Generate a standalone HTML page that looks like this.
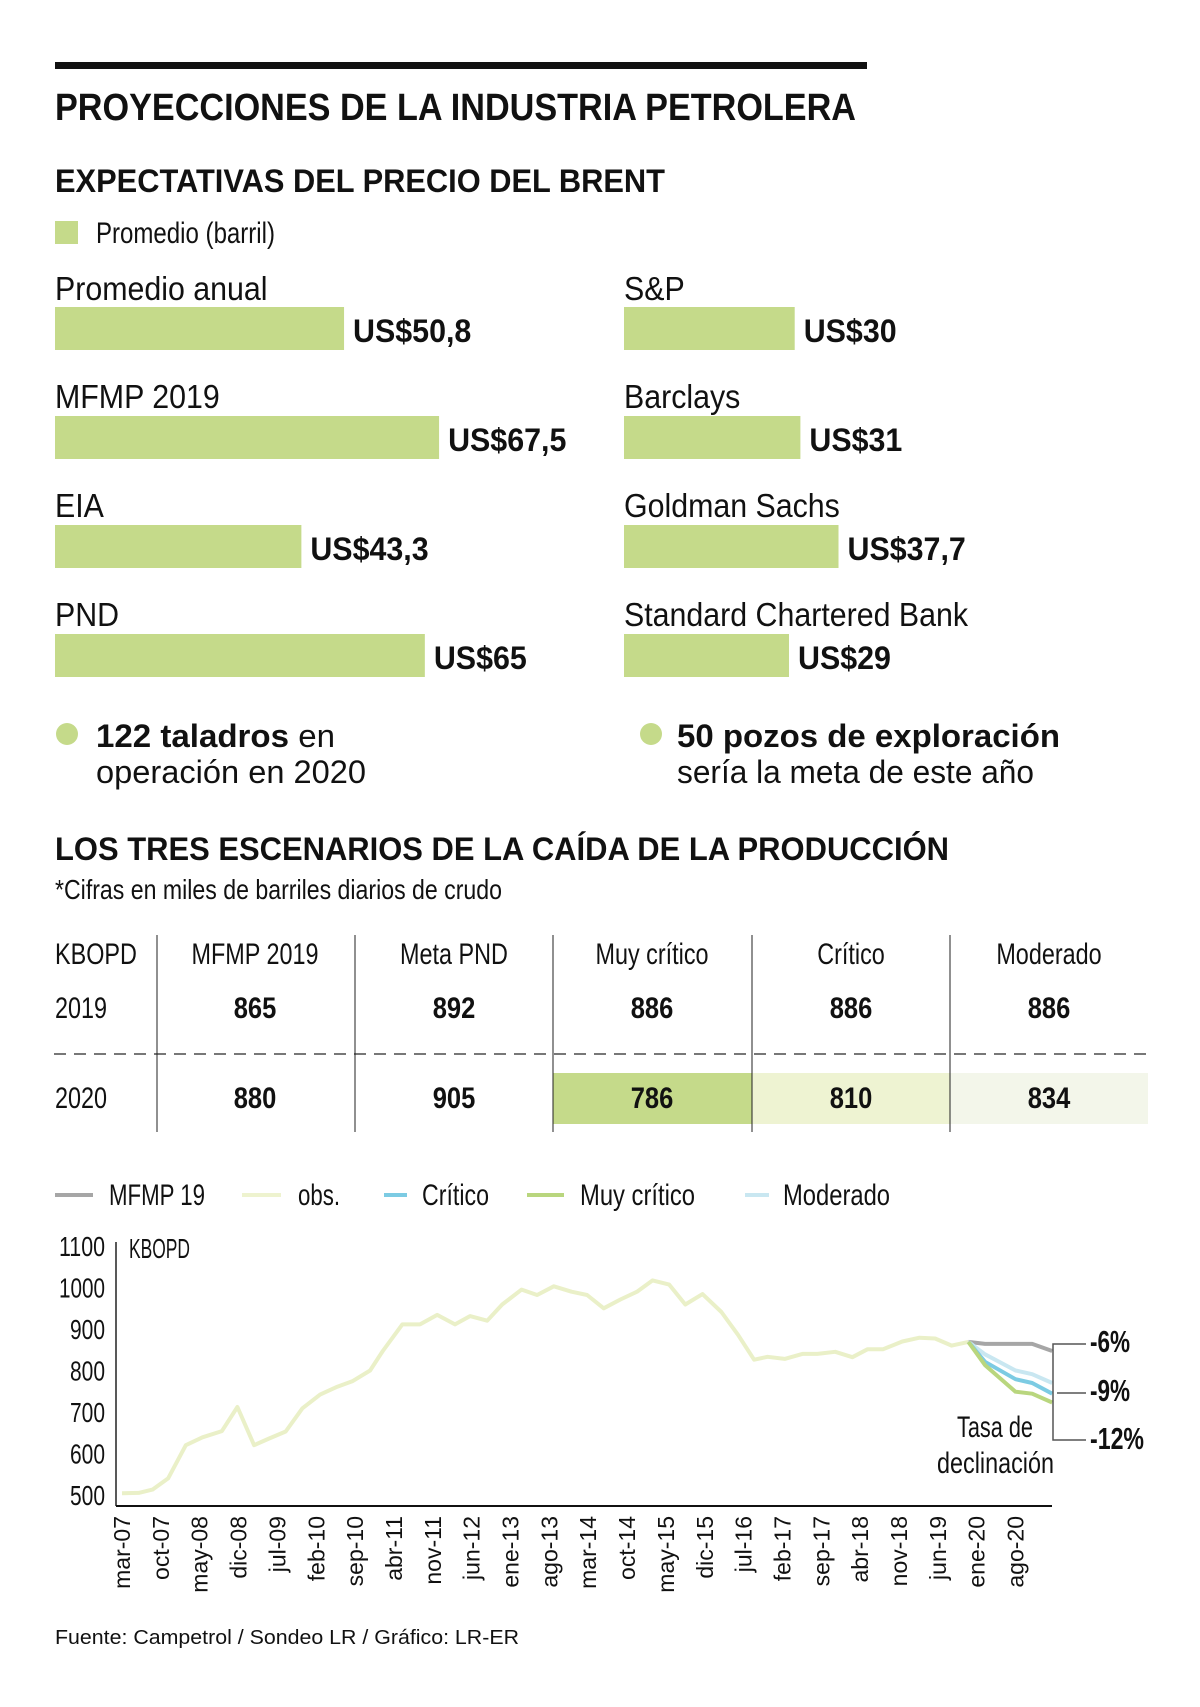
<!DOCTYPE html>
<html><head><meta charset="utf-8"><style>
html,body{margin:0;padding:0;background:#fff}
svg{display:block}
text{font-family:"Liberation Sans",sans-serif;fill:#111}
.b{font-weight:bold}
</style></head><body>
<svg id="root" width="1200" height="1707" viewBox="0 0 1200 1707">
<rect x="55" y="62" width="812" height="7" fill="#111"/>
<text class="b" x="55" y="120" font-size="38" textLength="801" lengthAdjust="spacingAndGlyphs">PROYECCIONES DE LA INDUSTRIA PETROLERA</text>
<text class="b" x="55" y="192" font-size="32" textLength="610" lengthAdjust="spacingAndGlyphs">EXPECTATIVAS DEL PRECIO DEL BRENT</text>
<rect x="55" y="221" width="23" height="23" fill="#c5da8a"/>
<text x="96" y="243" font-size="30" textLength="179" lengthAdjust="spacingAndGlyphs">Promedio (barril)</text>
<g id="bars"></g>

<circle cx="67" cy="734" r="11" fill="#c5da8a"/>
<text x="96" y="747" font-size="32" textLength="239" lengthAdjust="spacingAndGlyphs"><tspan class="b">122 taladros</tspan> en</text>
<text x="96" y="783" font-size="32" textLength="270" lengthAdjust="spacingAndGlyphs">operación en 2020</text>
<circle cx="651" cy="734" r="11" fill="#c5da8a"/>
<text class="b" x="677" y="747" font-size="32" textLength="383" lengthAdjust="spacingAndGlyphs">50 pozos de exploración</text>
<text x="677" y="783" font-size="32" textLength="357" lengthAdjust="spacingAndGlyphs">sería la meta de este año</text>

<text class="b" x="55" y="860" font-size="32" textLength="894" lengthAdjust="spacingAndGlyphs">LOS TRES ESCENARIOS DE LA CAÍDA DE LA PRODUCCIÓN</text>
<text x="55" y="899" font-size="28" textLength="447" lengthAdjust="spacingAndGlyphs">*Cifras en miles de barriles diarios de crudo</text>
<g id="table"></g>
<g id="chart"></g>
<text x="55" y="1644" font-size="20" textLength="464" lengthAdjust="spacingAndGlyphs" fill="#333">Fuente: Campetrol / Sondeo LR / Gráfico: LR-ER</text>
</svg>
<script>
// ---- Brent bar data ----
const leftNames = ["Promedio anual","MFMP 2019","EIA","PND"];
const leftValues = [50.8,67.5,43.3,65];
const leftLabels = ["US$50,8","US$67,5","US$43,3","US$65"];
const rightNames = ["S&P","Barclays","Goldman Sachs","Standard Chartered Bank"];
const rightValues = [30,31,37.7,29];
const rightLabels = ["US$30","US$31","US$37,7","US$29"];
// ---- table data ----
const tableHeaders = ["KBOPD","MFMP 2019","Meta PND","Muy crítico","Crítico","Moderado"];
const row2019 = ["2019","865","892","886","886","886"];
const row2020 = ["2020","880","905","786","810","834"];
// ---- line chart data (month index from mar-07, kbopd) ----
const obsMonths = [0,3,5.5,8.3,11.5,14.5,18,20.8,23.8,26.3,29.5,32.5,35.7,38.8,41.5,44.7,47,50.5,53.7,56.8,60,62.7,65.8,68.5,72,74.8,77.8,81,83.8,86.8,89.8,92.8,95.6,98.6,101.5,104.6,108,111,113.9,116.3,119.4,122.6,125.3,128.5,131.6,134.3,137.1,140.6,143.7,146.5,149.5,152.5];
const obsValues = [504,505,513,540,620,639,654,712,620,635,653,709,742,761,774,800,847,911,911,934,911,931,920,959,995,982,1003,990,982,950,971,990,1017,1007,959,984,941,886,826,833,828,840,840,845,832,851,851,870,879,877,860,869];
const scenMonths = [152.5,155.5,161,164,167.6];
const mfmpValues = [869,864,864,864,847];
const moderadoValues = [869,839,800,791,770];
const criticoValues = [869,821,779,770,744];
const muyCriticoValues = [869,813,749,744,723];
const yTicks = [1100,1000,900,800,700,600,500];
const xTickLabels = ["mar-07","oct-07","may-08","dic-08","jul-09","feb-10","sep-10","abr-11","nov-11","jun-12","ene-13","ago-13","mar-14","oct-14","may-15","dic-15","jul-16","feb-17","sep-17","abr-18","nov-18","jun-19","ene-20","ago-20"];
const xTickStep = 7;

const NS="http://www.w3.org/2000/svg";
function mk(tag,attrs,parent){const e=document.createElementNS(NS,tag);for(const k in attrs)e.setAttribute(k,attrs[k]);parent.appendChild(e);return e;}

// bars
const bars=document.getElementById('bars');
const pxPerUnit=5.69;
const rowLabelY=[300,408,517,626], rowBarY=[307,416,525,634];
function drawCol(x0,names,vals,labels,side){
  for(let i=0;i<names.length;i++){
    const t=mk('text',{x:x0,y:rowLabelY[i],'font-size':33,transform:'translate('+x0+' 0) scale(0.92 1) translate('+(-x0)+' 0)'},bars);
    t.textContent=names[i];
    
    
    const w=vals[i]*pxPerUnit;
    const r=mk('rect',{x:x0,y:rowBarY[i],width:w,height:43,fill:'#c5da8a'},bars);
    
    
    const vx=x0+w+9;
    const v=mk('text',{x:vx,y:rowBarY[i]+35,'font-size':32,'class':'b',transform:'translate('+vx+' 0) scale(0.95 1) translate('+(-vx)+' 0)'},bars);
    v.textContent=labels[i];
    
    
  }
}
drawCol(55,leftNames,leftValues,leftLabels,'left');
drawCol(624,rightNames,rightValues,rightLabels,'right');

// table
const tb=document.getElementById('table');
const colCenters=[null,255,454,652,851,1049];
const divs=[157,355,553,752,950];
const fills=[null,null,null,'#c5da8a','#eef3d2','#f3f6ea'];
for(let c=3;c<6;c++){
  const x=divs[c-1], w=(c<5?divs[c]-x:1148-x);
  const r=mk('rect',{x:x,y:1073,width:w,height:51,fill:fills[c]},tb);
  
  
}
const dl=mk('line',{x1:54,y1:1054,x2:1154,y2:1054,stroke:'#777','stroke-width':2,'stroke-dasharray':'12,8'},tb);


divs.forEach((x,i)=>{
  const l=mk('line',{x1:x,y1:935,x2:x,y2:1132,stroke:'#222','stroke-width':1},tb);
  
  
});
[[tableHeaders,964,false],[row2019,1018,true],[row2020,1108,true]].forEach(([row,y,bold],ri)=>{
  row.forEach((s,c)=>{
    const cx=c===0?55:colCenters[c];
    const a={x:cx,y:y,'font-size':30};
    if(c>0)a['text-anchor']='middle';
    const sc=(bold&&c>0)?0.85:0.78;
    if(bold&&c>0)a['class']='b';
    a['transform']='translate('+cx+' 0) scale('+sc+' 1) translate('+(-cx)+' 0)';
    const t=mk('text',a,tb);t.textContent=s;
    
    
  });
});

// chart
const ch=document.getElementById('chart');
const X0=122, XPM=5.55, Y500=1495, YP100=41.5;
const xs=m=>X0+m*XPM;
const ys=v=>Y500-(v-500)/100*YP100;
// legend
const legItems=[["MFMP 19","#a6a6a6",55,93,109,96],["obs.","#eef3cf",242,281,298,42],["Crítico","#7ccbe3",384,407,422,67],["Muy crítico","#b9d67e",527,564,580,115],["Moderado","#c9e7f1",745,769,783,107]];
legItems.forEach((it,i)=>{
  const l=mk('line',{x1:it[2],y1:1195,x2:it[3],y2:1195,stroke:it[1],'stroke-width':4},ch);
  
  
  const t=mk('text',{x:it[4],y:1205,'font-size':30,textLength:it[5],lengthAdjust:'spacingAndGlyphs'},ch);
  t.textContent=it[0];
  
  
});
// axes
const ya=mk('line',{x1:116,y1:1242,x2:116,y2:1506,stroke:'#222','stroke-width':1.5},ch);


const xa=mk('line',{x1:116,y1:1506,x2:1052,y2:1506,stroke:'#111','stroke-width':2},ch);


const unit=mk('text',{x:129,y:1258,'font-size':28,textLength:61,lengthAdjust:'spacingAndGlyphs'},ch);
unit.textContent='KBOPD';


yTicks.forEach(v=>{
  const t=mk('text',{x:105,y:ys(v)+10,'font-size':28,'text-anchor':'end',textLength:(v>=1000?46:35),lengthAdjust:'spacingAndGlyphs'},ch);
  t.textContent=v;
  
  
});
xTickLabels.forEach((s,i)=>{
  const x=xs(i*xTickStep)+8;
  const t=mk('text',{x:x,y:1516,'font-size':23,'text-anchor':'end',transform:'rotate(-90 '+x+' 1516)'},ch);
  t.textContent=s;
  
  
});
function line(ms,vs,color,name){
  const d=ms.map((m,i)=>(i?'L':'M')+xs(m).toFixed(1)+','+ys(vs[i]).toFixed(1)).join(' ');
  const p=mk('path',{d:d,fill:'none',stroke:color,'stroke-width':4,'stroke-linejoin':'round'},ch);
  
  
}
line(obsMonths,obsValues,'#eaf0c8','series-observed');
line(scenMonths,mfmpValues,'#a6a6a6','series-mfmp19');
line(scenMonths,moderadoValues,'#c9e7f1','series-moderado');
line(scenMonths,criticoValues,'#7ccbe3','series-critico');
line(scenMonths,muyCriticoValues,'#b9d67e','series-muy-critico');
// decline annotation
const br=mk('path',{d:'M1086,1344 L1053,1344 L1053,1440 L1086,1440 M1057,1393 L1086,1393',fill:'none',stroke:'#555','stroke-width':1.5},ch);


[["-6%",1352,40],["-9%",1401,40],["-12%",1449,54]].forEach((a,i)=>{
  const t=mk('text',{x:1090,y:a[1],'font-size':31,'class':'b',textLength:a[2],lengthAdjust:'spacingAndGlyphs'},ch);
  t.textContent=a[0];
  
  
});
const t1=mk('text',{x:1033,y:1437,'font-size':30,'text-anchor':'end',textLength:76,lengthAdjust:'spacingAndGlyphs'},ch);
t1.textContent='Tasa de';


const t2=mk('text',{x:1054,y:1473,'font-size':30,'text-anchor':'end',textLength:117,lengthAdjust:'spacingAndGlyphs'},ch);
t2.textContent='declinación';


</script>
</body></html>
